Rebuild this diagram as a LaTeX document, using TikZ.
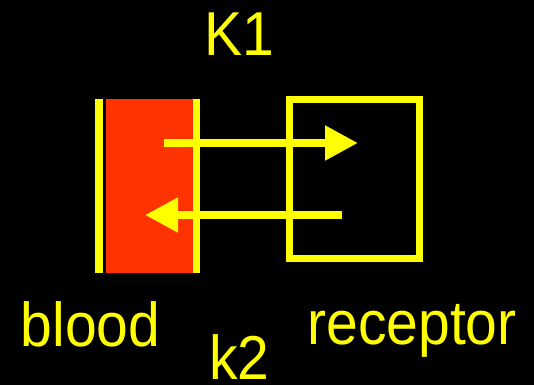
\documentclass[tikz,border=0pt]{standalone}
\usepackage{fontspec}
\usepackage{graphicx}
\setmainfont{Liberation Sans}
\usetikzlibrary{arrows.meta}
\definecolor{ylw}{RGB}{255,255,0}
\definecolor{bloodred}{RGB}{255,51,0}
\newcommand{\narrowtxt}[1]{\scalebox{0.92}[1]{#1}}
\tikzset{
  lbl/.style={text=ylw, inner sep=0pt, anchor=base, font=\fontsize{62}{64}\selectfont},
  bar/.style={fill=ylw, draw=none, inner sep=0pt, minimum width=8pt, minimum height=174pt},
  flow/.style={draw=ylw, line width=8pt, -{Triangle[length=33pt,width=33pt]}},
}
\begin{document}
\begin{tikzpicture}[x=1pt,y=-1pt]
\fill[black] (0,0) rectangle (534,385);
\useasboundingbox (0,0) rectangle (534,385);
% blood compartment
\node[fill=bloodred, draw=none, inner sep=0pt, minimum width=88pt, minimum height=174pt] (blood) at (150,186) {};
\node[bar] (barL) at (99,186) {};
\node[bar, minimum width=7.5pt] (barR) at (196.5,186) {};
% receptor box
\node[draw=ylw, line width=7pt, inner sep=0pt, minimum width=130pt, minimum height=158.5pt] (rec) at (354,178.75) {};
% arrow ends
\coordinate (a1s) at (164,143);
\coordinate (a1e) at (358,143);
\coordinate (a2s) at (342,215);
\coordinate (a2e) at (145,215);
\draw[flow] (a1s) -- (a1e);
\draw[flow] (a2s) -- (a2e);
% labels
\node[lbl] (K1) at (239.5,56) {\narrowtxt{K1}};
\node[lbl] (k2) at (239.5,379) {\narrowtxt{k2}};
\node[lbl] (tblood) at (90.5,346) {\narrowtxt{blood}};
\node[lbl] (trec) at (412,344) {\narrowtxt{receptor}};
\end{tikzpicture}
\end{document}
